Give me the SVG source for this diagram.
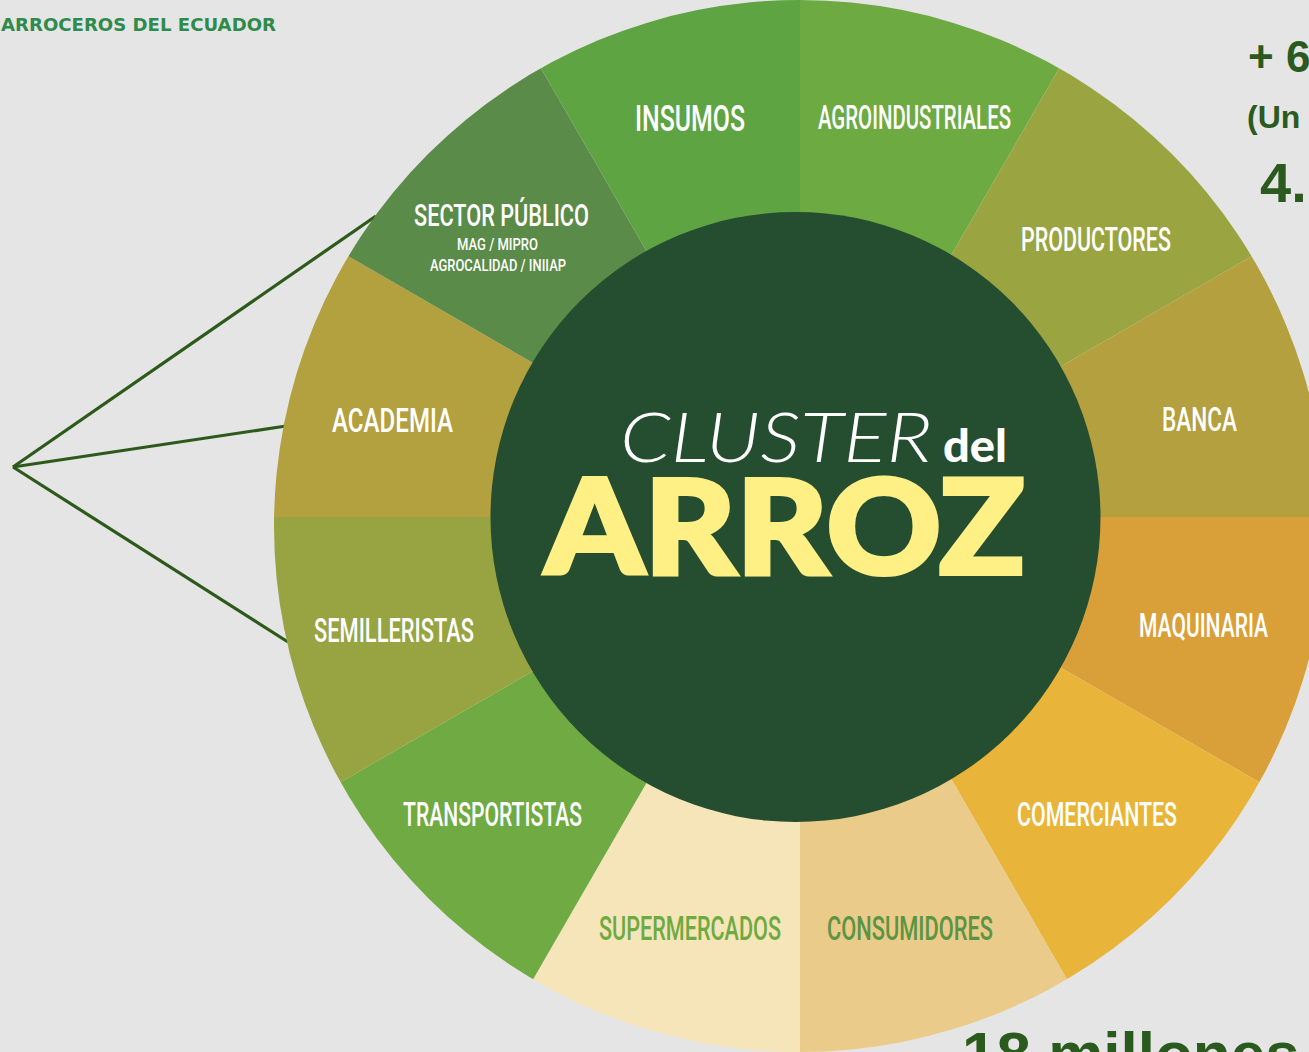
<svg xmlns="http://www.w3.org/2000/svg" width="1309" height="1052" viewBox="0 0 1309 1052">
<defs>
<clipPath id="ring"><circle cx="800" cy="526" r="526"/></clipPath>
<style>
.lbl{font-family:"Roboto","Liberation Sans Narrow","DejaVu Sans Condensed",sans-serif;font-weight:500;font-size:34px;fill:#ffffff;}
.sub{font-family:"Roboto","Liberation Sans Narrow",sans-serif;font-weight:500;font-size:17px;fill:#ffffff;}
.side{font-family:"Liberation Sans","Arial",sans-serif;font-weight:bold;fill:#2a5a1e;}
.conn{stroke:#2d5a1b;stroke-width:3.2;fill:none;}
</style>
</defs>
<rect width="1309" height="1052" fill="#e5e5e5"/>
<text x="1" y="31" font-family="DejaVu Sans, sans-serif" font-weight="bold" font-size="17" fill="#2e8b4b" textLength="275" lengthAdjust="spacingAndGlyphs">ARROCEROS DEL ECUADOR</text>
<g id="connectors">
<line class="conn" x1="13" y1="467" x2="376" y2="216"/>
<line class="conn" x1="13" y1="467" x2="286" y2="426"/>
<line class="conn" x1="13" y1="467" x2="288" y2="642"/>
</g>
<g clip-path="url(#ring)">
<g id="agroindustriales"><polygon points="800,517 800,-383 1250,-262.4" fill="#6eaa42"/><text class="lbl" x="818" y="129" textLength="193" lengthAdjust="spacingAndGlyphs">AGROINDUSTRIALES</text></g>
<g id="productores"><polygon points="800,517 1250,-262.4 1579.4,67" fill="#9aa542"/><text class="lbl" x="1021" y="251" textLength="150" lengthAdjust="spacingAndGlyphs">PRODUCTORES</text></g>
<g id="banca"><polygon points="800,517 1579.4,67 1700,517" fill="#b4a03e"/><text class="lbl" x="1162" y="431" textLength="75" lengthAdjust="spacingAndGlyphs">BANCA</text></g>
<g id="maquinaria"><polygon points="800,517 1700,517 1579.4,967" fill="#d9a03a"/><text class="lbl" x="1139" y="637" textLength="129" lengthAdjust="spacingAndGlyphs">MAQUINARIA</text></g>
<g id="comerciantes"><polygon points="800,517 1579.4,967 1250,1296.4" fill="#e8b53a"/><text class="lbl" x="1017" y="826" textLength="160" lengthAdjust="spacingAndGlyphs">COMERCIANTES</text></g>
<g id="consumidores"><polygon points="800,517 1250,1296.4 800,1417" fill="#ebcb8a"/><text class="lbl" x="827" y="940" textLength="166" lengthAdjust="spacingAndGlyphs" style="fill:#5a9444">CONSUMIDORES</text></g>
<g id="supermercados"><polygon points="800,517 800,1417 350,1296.4" fill="#f6e5b8"/><text class="lbl" x="599" y="940" textLength="182" lengthAdjust="spacingAndGlyphs" style="fill:#6eaa42">SUPERMERCADOS</text></g>
<g id="transportistas"><polygon points="800,517 350,1296.4 20.6,967" fill="#6faa42"/><text class="lbl" x="403" y="826" textLength="179" lengthAdjust="spacingAndGlyphs">TRANSPORTISTAS</text></g>
<g id="semilleristas"><polygon points="800,517 20.6,967 -100,517" fill="#98a342"/><text class="lbl" x="314" y="642" textLength="160" lengthAdjust="spacingAndGlyphs">SEMILLERISTAS</text></g>
<g id="academia"><polygon points="800,517 -100,517 20.6,67" fill="#b3a03f"/><text class="lbl" x="332" y="432" textLength="121" lengthAdjust="spacingAndGlyphs">ACADEMIA</text></g>
<g id="sector-publico"><polygon points="800,517 20.6,67 350,-262.4" fill="#5a8b48"/><text class="lbl" x="414" y="226" textLength="175" lengthAdjust="spacingAndGlyphs" style="font-size:31px">SECTOR PÚBLICO</text><text class="sub" x="457" y="250" textLength="81" lengthAdjust="spacingAndGlyphs">MAG / MIPRO</text><text class="sub" x="430" y="271" textLength="136" lengthAdjust="spacingAndGlyphs">AGROCALIDAD / INIIAP</text></g>
<g id="insumos"><polygon points="800,517 350,-262.4 800,-383" fill="#5ea443"/><text class="lbl" x="635" y="131" textLength="110" lengthAdjust="spacingAndGlyphs" style="font-size:37px">INSUMOS</text></g>
</g>
<g id="center">
<circle cx="795.5" cy="517" r="305" fill="#254d30"/>
<text x="620" y="462" font-family="Lato, 'Open Sans', sans-serif" font-weight="300" font-style="italic" font-size="70" fill="#ffffff" textLength="312" lengthAdjust="spacingAndGlyphs">CLUSTER</text>
<text x="943" y="462" font-family="Lato, 'Open Sans', sans-serif" font-weight="900" font-size="46" fill="#ffffff" textLength="64" lengthAdjust="spacingAndGlyphs">del</text>
<text x="545" y="574" font-family="Lato, Inter, 'Open Sans', sans-serif" font-weight="900" font-size="132" fill="#fff086" stroke="#fff086" stroke-width="4" stroke-linejoin="miter" textLength="480" lengthAdjust="spacingAndGlyphs">ARROZ</text>
</g>
<text class="side" x="1248" y="72" font-size="44">+ 6</text>
<text class="side" x="1247" y="128" font-size="32">(Un</text>
<text class="side" x="1260" y="202" font-size="56">4.</text>
<text class="side" x="962" y="1075" font-size="62">18 millones</text>
</svg>
